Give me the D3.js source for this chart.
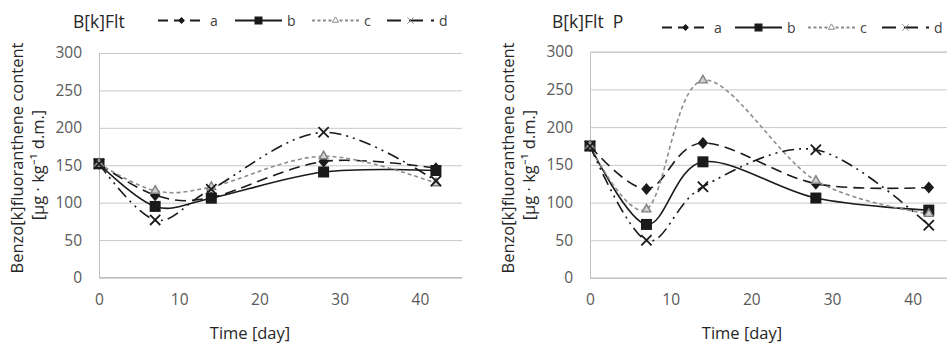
<!DOCTYPE html>
<html><head><meta charset="utf-8">
<script src="https://cdn.jsdelivr.net/npm/d3@7"></script>
<style>body{margin:0;background:#fff}svg{display:block}text{font-family:"Open Sans",sans-serif;white-space:pre}</style>
</head><body><svg id="c" width="947" height="344"></svg>
<script>
const days = [0, 7, 14, 28, 42];
const seriesNames = ["a", "b", "c", "d"];
const xTicks = [0, 10, 20, 30, 40];
const yTicks = [0, 50, 100, 150, 200, 250, 300];
const leftTitle = "B[k]Flt";
const rightTitle = "B[k]Flt  P";
const leftA = [152, 110, 107, 155, 146];
const leftB = [152, 95, 106, 141, 143];
const leftC = [152, 116, 121, 162, 126];
const leftD = [152, 77, 118, 194, 129];
const rightA = [175, 118, 179, 125, 120];
const rightB = [175, 71, 154, 106, 90];
const rightC = [175, 91, 262, 129, 85];
const rightD = [175, 50, 121, 170, 70];
const yLabel1 = "Benzo[k]fluoranthene content";
const yLabel2 = "[µg · kg⁻¹ d.m.]";
const xLabel = "Time [day]";

const styles = {
  a: {stroke: "#1a1a1a", dash: "11,6", width: 1.6, marker: "diamond"},
  b: {stroke: "#1a1a1a", dash: null, width: 1.6, marker: "square"},
  c: {stroke: "#8c8c8c", dash: "4,3", width: 1.6, marker: "triangle"},
  d: {stroke: "#1a1a1a", dash: "12,5,2,5,2,5", width: 1.6, marker: "x"}
};

const panels = [
  {title: leftTitle, data: [leftA, leftB, leftC, leftD], x0: 99, x1: 460, gridEnd: 462, y0: 277.5, y1: 53,
   titleX: 73, titleY: 28, legendY: 20.5, legendX: [158, 235, 312, 387],
   tickX: 82, yl1: 16, yl2: 37, xlc: 250},
  {title: rightTitle, data: [rightA, rightB, rightC, rightD], x0: 590, x1: 953, gridEnd: 947, y0: 278, y1: 51.7,
   titleX: 552, titleY: 28, legendY: 27.5, legendX: [662, 735, 808, 882],
   tickX: 573, yl1: 507, yl2: 528, xlc: 742}
];

const svg = d3.select("#c");

function drawMarker(g, type, x, y) {
  if (type === "diamond") {
    g.append("path").attr("d", d3.symbol(d3.symbolDiamond2, 70)()).attr("transform", `translate(${x},${y}) scale(1,1.15)`)
      .attr("fill", "#1a1a1a");
  } else if (type === "square") {
    g.append("rect").attr("x", x - 5.5).attr("y", y - 5.5).attr("width", 11).attr("height", 11).attr("fill", "#1a1a1a");
  } else if (type === "triangle") {
    g.append("path").attr("d", d3.symbol(d3.symbolTriangle2, 55)()).attr("transform", `translate(${x},${y})`)
      .attr("fill", "#d0d0d0").attr("stroke", "#808080").attr("stroke-width", 1.4);
  } else {
    g.append("path").attr("d", d3.symbol(d3.symbolX, 70)()).attr("transform", `translate(${x},${y})`)
      .attr("fill", "none").attr("stroke", "#1a1a1a").attr("stroke-width", 1.8);
  }
}

function drawLegendMarker(g, type, x, y) {
  if (type === "diamond") {
    g.append("path").attr("d", d3.symbol(d3.symbolDiamond2, 30)()).attr("transform", `translate(${x},${y})`).attr("fill", "#1a1a1a");
  } else if (type === "square") {
    g.append("rect").attr("x", x - 4).attr("y", y - 4).attr("width", 8).attr("height", 8).attr("fill", "#1a1a1a");
  } else if (type === "triangle") {
    g.append("path").attr("d", d3.symbol(d3.symbolTriangle2, 28)()).attr("transform", `translate(${x},${y})`)
      .attr("fill", "#fff").attr("stroke", "#8c8c8c").attr("stroke-width", 1);
  } else {
    g.append("path").attr("d", d3.symbol(d3.symbolX, 28)()).attr("transform", `translate(${x},${y})`)
      .attr("fill", "none").attr("stroke", "#8c8c8c").attr("stroke-width", 1);
  }
}

panels.forEach(p => {
  const x = d3.scaleLinear().domain([0, 45]).range([p.x0, p.x1]);
  const y = d3.scaleLinear().domain([0, 300]).range([p.y0, p.y1]);
  const g = svg.append("g");

  const yAxis = d3.axisLeft(y).tickValues(yTicks).tickSize(-(p.gridEnd - p.x0)).tickPadding(p.x0 - p.tickX);
  const ya = g.append("g").attr("transform", `translate(${p.x0},0)`).call(yAxis);
  ya.select(".domain").attr("stroke", "#bfbfbf");
  ya.selectAll(".tick line").attr("stroke", "#c8c8c8").attr("stroke-width", 1);
  ya.selectAll(".tick text").attr("fill", "#595959").attr("font-size", 15.5).attr("font-family", "Open Sans");

  const xAxis = d3.axisBottom(x).tickValues(xTicks).tickSize(0).tickPadding(16);
  const xa = g.append("g").attr("transform", `translate(0,${p.y0})`).call(xAxis);
  xa.select(".domain").attr("stroke", "#bfbfbf").attr("d", `M${p.x0},0H${p.gridEnd}`);
  xa.selectAll(".tick text").attr("fill", "#595959").attr("font-size", 15.5).attr("font-family", "Open Sans");

  g.append("text").attr("transform", `translate(${p.yl1},158) rotate(-90)`).attr("text-anchor", "middle")
    .attr("dominant-baseline", "central").attr("font-size", 16.5).attr("fill", "#262626").text(yLabel1);
  g.append("text").attr("transform", `translate(${p.yl2},165) rotate(-90)`).attr("text-anchor", "middle")
    .attr("dominant-baseline", "central").attr("font-size", 16.5).attr("fill", "#262626").text(yLabel2);
  g.append("text").attr("x", p.xlc).attr("y", 332).attr("text-anchor", "middle").attr("dominant-baseline", "central")
    .attr("font-size", 16.5).attr("fill", "#262626").text(xLabel);

  g.append("text").attr("x", p.titleX).attr("y", p.titleY).attr("font-size", 17.5).attr("fill", "#262626")
    .attr("xml:space", "preserve").text(p.title);

  const line = d3.line().x((d, i) => x(days[i])).y(d => y(d)).curve(d3.curveCardinal.tension(0));
  seriesNames.forEach((name, si) => {
    const s = styles[name];
    g.append("path").datum(p.data[si]).attr("d", line).attr("fill", "none")
      .attr("stroke", s.stroke).attr("stroke-width", s.width).attr("stroke-dasharray", s.dash);
  });
  seriesNames.forEach((name, si) => {
    const s = styles[name];
    p.data[si].forEach((v, i) => drawMarker(g, s.marker, x(days[i]), y(v)));
  });

  seriesNames.forEach((name, si) => {
    const s = styles[name];
    const lx = p.legendX[si];
    const ly = p.legendY;
    g.append("line").attr("x1", lx).attr("x2", lx + 47).attr("y1", ly).attr("y2", ly)
      .attr("stroke", s.stroke).attr("stroke-width", 1.8)
      .attr("stroke-dasharray", name === "a" ? "10,6" : name === "c" ? "3,2.5" : name === "d" ? "14,8" : null);
    drawLegendMarker(g, s.marker, lx + 23.5, ly);
    g.append("text").attr("x", lx + 52).attr("y", ly).attr("dominant-baseline", "central").attr("font-size", 14)
      .attr("fill", "#404040").text(name);
  });
});
</script></body></html>
